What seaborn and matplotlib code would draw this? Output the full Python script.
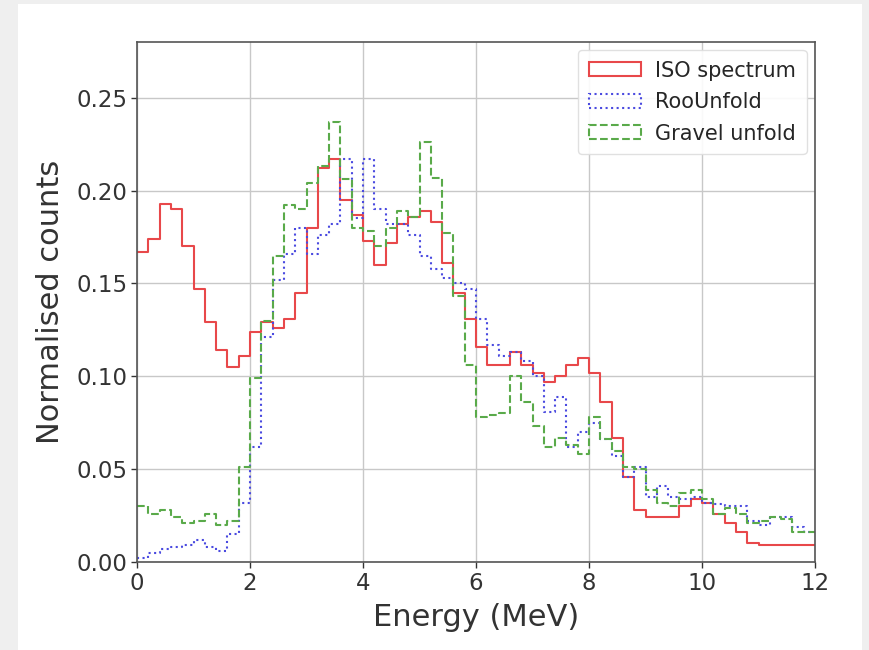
import numpy as np
import pandas as pd
import seaborn as sns
import matplotlib
matplotlib.use("Agg")
import matplotlib.pyplot as plt
from matplotlib.patches import Patch, Rectangle

# ---- data (60 bins of 0.2 MeV from 0 to 12) ----
bin_edges = [round(0.2 * i, 1) for i in range(61)]

iso_spectrum = [
    0.167, 0.174, 0.193, 0.190, 0.170, 0.147, 0.129, 0.114, 0.105, 0.111,
    0.124, 0.129, 0.126, 0.131, 0.145, 0.180, 0.212, 0.217, 0.195, 0.187,
    0.173, 0.160, 0.172, 0.182, 0.186, 0.189, 0.183, 0.161, 0.145, 0.131,
    0.116, 0.106, 0.106, 0.113, 0.106, 0.102, 0.097, 0.100, 0.106, 0.110,
    0.102, 0.086, 0.067, 0.046, 0.028, 0.024, 0.024, 0.024, 0.030, 0.034,
    0.032, 0.026, 0.021, 0.016, 0.010, 0.009, 0.009, 0.009, 0.009, 0.009,
]

roounfold = [
    0.002, 0.005, 0.007, 0.008, 0.009, 0.012, 0.008, 0.006, 0.015, 0.032,
    0.062, 0.121, 0.152, 0.166, 0.180, 0.166, 0.176, 0.182, 0.217, 0.185,
    0.217, 0.190, 0.182, 0.182, 0.176, 0.165, 0.158, 0.153, 0.150, 0.147,
    0.131, 0.117, 0.111, 0.113, 0.108, 0.100, 0.081, 0.089, 0.062, 0.070,
    0.075, 0.066, 0.057, 0.046, 0.051, 0.035, 0.041, 0.035, 0.034, 0.035,
    0.032, 0.031, 0.030, 0.030, 0.022, 0.020, 0.024, 0.024, 0.019, 0.016,
]

gravel_unfold = [
    0.030, 0.026, 0.028, 0.024, 0.021, 0.022, 0.026, 0.020, 0.022, 0.051,
    0.099, 0.130, 0.165, 0.192, 0.190, 0.204, 0.213, 0.237, 0.206, 0.180,
    0.178, 0.170, 0.180, 0.189, 0.186, 0.226, 0.207, 0.177, 0.143, 0.106,
    0.078, 0.079, 0.080, 0.100, 0.086, 0.073, 0.062, 0.067, 0.063, 0.058,
    0.078, 0.066, 0.060, 0.051, 0.050, 0.039, 0.032, 0.030, 0.037, 0.039,
    0.034, 0.026, 0.029, 0.026, 0.021, 0.022, 0.024, 0.023, 0.016, 0.016,
]

series_names = ["ISO spectrum", "RooUnfold", "Gravel unfold"]
series_values = [iso_spectrum, roounfold, gravel_unfold]
x_ticks = [0, 2, 4, 6, 8, 10, 12]
y_ticks = [0.00, 0.05, 0.10, 0.15, 0.20, 0.25]

# ---- style ----
colors = ["#e8484a", "#4a4ae0", "#5aaa4a"]
styles = ["-", ":", "--"]

sns.set_style("white")
plt.rcParams["font.family"] = ["DejaVu Sans"]

fig = plt.figure(figsize=(8.69, 6.5), dpi=100)
fig.patch.set_facecolor("#efefef")
fig.patches.append(Rectangle((18 / 869, 0), (862 - 18) / 869, 646 / 650,
                             transform=fig.transFigure, facecolor="white",
                             edgecolor="none", zorder=-10))
ax = fig.add_axes([137 / 869, 1 - 562 / 650, (815 - 137) / 869, (562 - 42) / 650])

centers = [(bin_edges[i] + bin_edges[i + 1]) / 2 for i in range(len(bin_edges) - 1)]
for name, vals, c, ls in zip(series_names, series_values, colors, styles):
    df = pd.DataFrame({"energy": centers, "w": vals})
    sns.histplot(data=df, x="energy", weights="w", bins=bin_edges,
                 element="step", fill=False, color=c, linestyle=ls,
                 linewidth=1.5, ax=ax)

ax.set_xlim(0, 12)
ax.set_ylim(0, 0.28)
ax.set_xticks(x_ticks)
ax.set_yticks(y_ticks)
ax.set_yticklabels([f"{v:.2f}" for v in y_ticks])
ax.grid(True, color="#c8c8c8", linewidth=1.0)
ax.set_axisbelow(True)
for s in ax.spines.values():
    s.set_color("#555555")
    s.set_linewidth(1.2)
ax.tick_params(axis="both", which="both", labelsize=16.5, colors="#333333",
               length=4, width=1, direction="out", bottom=True, left=True, pad=3)
ax.set_xlabel("Energy (MeV)", fontsize=22, color="#333333", labelpad=6)
ax.set_ylabel("Normalised counts", fontsize=22, color="#333333", labelpad=8)

handles = [Patch(facecolor="none", edgecolor=c, linestyle=ls, linewidth=1.5, label=n)
           for n, c, ls in zip(series_names, colors, styles)]
ax.legend(handles=handles, loc="upper right", fontsize=15, frameon=True,
          framealpha=0.9, edgecolor="#dddddd", handlelength=2.5,
          handleheight=0.65, labelspacing=0.55, borderaxespad=0.4,
          borderpad=0.5, handletextpad=0.7)

fig.savefig("out.png", dpi=100, facecolor=fig.get_facecolor())
